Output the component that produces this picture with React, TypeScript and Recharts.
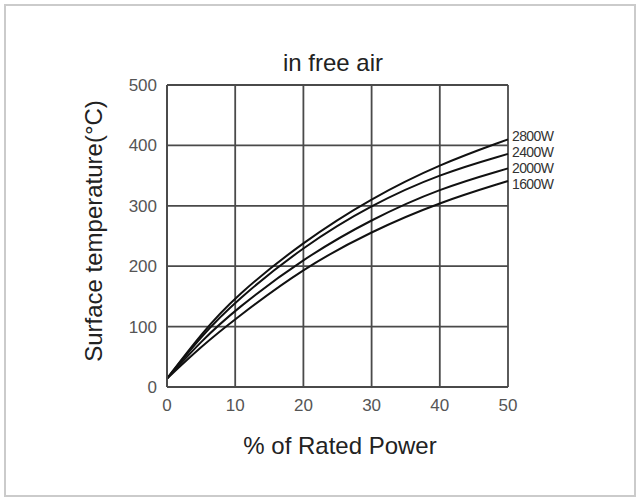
import React from 'react';
import { LineChart, Line, XAxis, YAxis, CartesianGrid } from 'recharts';

// % of rated power (x) and surface temperature in °C for each rating
const power = [0, 5, 10, 20, 30, 40, 50];
const w2800 = [14, 88, 150, 241, 313, 369, 410];
const w2400 = [14, 84, 142, 233, 302, 353, 386];
const w2000 = [14, 76, 128, 213, 278, 329, 362];
const w1600 = [14, 67, 113, 197, 258, 306, 341];

const xTicks = [0, 10, 20, 30, 40, 50];
const yTicks = [0, 100, 200, 300, 400, 500];

const series = [
    { key: 'w2800', name: '2800W', dy: -3 },
    { key: 'w2400', name: '2400W', dy: -2 },
    { key: 'w2000', name: '2000W', dy: 0 },
    { key: 'w1600', name: '1600W', dy: 3 },
];

const data = power.map((p, i) => ({
    power: p,
    w2800: w2800[i],
    w2400: w2400[i],
    w2000: w2000[i],
    w1600: w1600[i],
}));

const FONT = '"Liberation Sans", Arial, Helvetica, sans-serif';
const GRID = '#4a4a4a';

const endLabel = (name: string, dy: number) => (props: any) => {
    if (props.index !== data.length - 1) return <g />;
    return (
        <text
            x={props.x + 4}
            y={props.y + dy}
            dominantBaseline="central"
            fontSize={14}
            fontFamily={FONT}
            fill="#333"
            letterSpacing={-0.6}
        >
            {name}
        </text>
    );
};

export default function App() {
    return (
        <div style={{ position: 'absolute', left: 0, top: 0, width: 640, height: 501, background: '#fff', fontFamily: FONT }}>
            <div style={{ position: 'absolute', left: 4, top: 4, width: 628, height: 489, border: '2px solid #cbcbcb' }} />
            <LineChart
                width={640}
                height={501}
                data={data}
                margin={{ top: 85, right: 132, bottom: 0, left: 0 }}
            >
                <CartesianGrid stroke={GRID} strokeWidth={1.8} />
                <XAxis
                    dataKey="power"
                    type="number"
                    domain={[0, 50]}
                    ticks={xTicks}
                    height={114}
                    axisLine={{ stroke: GRID, strokeWidth: 1.8 }}
                    tickLine={false}
                    tickSize={0}
                    tickMargin={12}
                    tick={{ fontSize: 17, fill: '#555', fontFamily: FONT }}
                />
                <YAxis
                    type="number"
                    domain={[0, 500]}
                    ticks={yTicks}
                    width={167}
                    axisLine={{ stroke: GRID, strokeWidth: 1.8 }}
                    tickLine={false}
                    tickSize={0}
                    tickMargin={10}
                    tick={{ fontSize: 17, fill: '#555', fontFamily: FONT }}
                />
                {series.map(s => (
                    <Line
                        key={s.key}
                        type="basis"
                        dataKey={s.key}
                        stroke="#111"
                        strokeWidth={2}
                        dot={false}
                        isAnimationActive={false}
                        label={endLabel(s.name, s.dy)}
                    />
                ))}
            </LineChart>
            <div style={{ position: 'absolute', left: 333, top: 63, transform: 'translate(-50%, -50%)', fontSize: 24, color: '#222', whiteSpace: 'nowrap' }}>
                in free air
            </div>
            <div style={{ position: 'absolute', left: 94, top: 231, transform: 'translate(-50%, -50%) rotate(-90deg)', fontSize: 24, color: '#222', whiteSpace: 'nowrap' }}>
                Surface temperature(°C)
            </div>
            <div style={{ position: 'absolute', left: 340, top: 446, transform: 'translate(-50%, -50%)', fontSize: 24, color: '#222', whiteSpace: 'nowrap' }}>
                % of Rated Power
            </div>
        </div>
    );
}
